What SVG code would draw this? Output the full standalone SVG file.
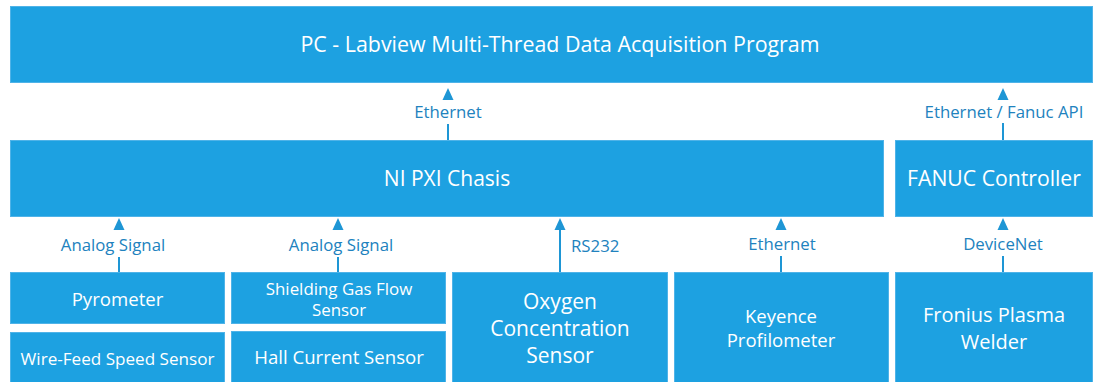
<svg xmlns="http://www.w3.org/2000/svg" width="1103" height="382" viewBox="0 0 1103 382">
<defs>
<style>
.box{fill:#1DA1E1;stroke:#4FB3E8;stroke-width:1}
.nt{font-family:"Open Sans","Noto Sans",sans-serif;fill:#FFFFFF;text-anchor:middle}
.lb{font-family:"Open Sans","Noto Sans",sans-serif;fill:#2182BE;font-size:16.8px;text-anchor:middle}
.ls{font-family:"Open Sans","Noto Sans",sans-serif;fill:#2182BE;font-size:16.8px;text-anchor:start}
.ln{stroke:#1E96D5;stroke-width:2;fill:none}
.ah{fill:#1E96D5}
</style>
</defs>
<rect width="1103" height="382" fill="#FFFFFF"/>
<g id="pc"><rect class="box" x="10.5" y="6.5" width="1082" height="76"/><text class="nt" x="560" y="52" font-size="21.4">PC - Labview Multi-Thread Data Acquisition Program</text></g>
<g id="nipxi"><rect class="box" x="10.5" y="140.5" width="873" height="76"/><text class="nt" x="447" y="186" font-size="21">NI PXI Chasis</text></g>
<g id="fanuc"><rect class="box" x="895.5" y="140.5" width="197" height="76"/><text class="nt" x="994" y="186" font-size="21.2">FANUC Controller</text></g>
<g id="pyrometer"><rect class="box" x="10.5" y="272.5" width="214" height="51"/><text class="nt" x="117.5" y="306" font-size="18.6">Pyrometer</text></g>
<g id="wirefeed"><rect class="box" x="10.5" y="332.5" width="214" height="52"/><text class="nt" x="117.5" y="365" font-size="17.1">Wire-Feed Speed Sensor</text></g>
<g id="shielding"><rect class="box" x="231.5" y="272.5" width="214" height="51"/><text class="nt" x="339" y="295" font-size="16.9">Shielding Gas Flow</text><text class="nt" x="339" y="316" font-size="16.9">Sensor</text></g>
<g id="hall"><rect class="box" x="231.5" y="331.5" width="214" height="53"/><text class="nt" x="339" y="364" font-size="18.6">Hall Current Sensor</text></g>
<g id="oxygen"><rect class="box" x="452.5" y="272.5" width="215" height="112"/><text class="nt" x="560" y="309" font-size="21">Oxygen</text><text class="nt" x="560" y="336" font-size="21">Concentration</text><text class="nt" x="560" y="363" font-size="21">Sensor</text></g>
<g id="keyence"><rect class="box" x="674.5" y="272.5" width="214" height="112"/><text class="nt" x="781" y="323" font-size="18.5">Keyence</text><text class="nt" x="781" y="347" font-size="18.5">Profilometer</text></g>
<g id="fronius"><rect class="box" x="895.5" y="272.5" width="197" height="112"/><text class="nt" x="994" y="322" font-size="20">Fronius Plasma</text><text class="nt" x="994" y="349" font-size="20">Welder</text></g>
<g id="connectors">
<line class="ln" x1="448" y1="124" x2="448" y2="140"/><polygon class="ah" points="448,88 442.5,100 453.5,100"/><text class="lb" x="448" y="118">Ethernet</text>
<line class="ln" x1="1003" y1="123" x2="1003" y2="140"/><polygon class="ah" points="1003,88 997.5,100 1008.5,100"/><text class="lb" x="1004" y="118">Ethernet / Fanuc API</text>
<line class="ln" x1="119" y1="257" x2="119" y2="272"/><polygon class="ah" points="119,218 113.5,230 124.5,230"/><text class="lb" x="113" y="251">Analog Signal</text>
<line class="ln" x1="338" y1="257" x2="338" y2="272"/><polygon class="ah" points="338,218 332.5,230 343.5,230"/><text class="lb" x="341" y="251">Analog Signal</text>
<line class="ln" x1="560" y1="229" x2="560" y2="272"/><polygon class="ah" points="560,218 554.5,230 565.5,230"/><text class="ls" x="571" y="252">RS232</text>
<line class="ln" x1="781" y1="256" x2="781" y2="272"/><polygon class="ah" points="781,218 775.5,230 786.5,230"/><text class="lb" x="782" y="250">Ethernet</text>
<line class="ln" x1="1003" y1="256" x2="1003" y2="272"/><polygon class="ah" points="1003,218 997.5,230 1008.5,230"/><text class="lb" x="1003" y="250">DeviceNet</text>
</g>
</svg>
